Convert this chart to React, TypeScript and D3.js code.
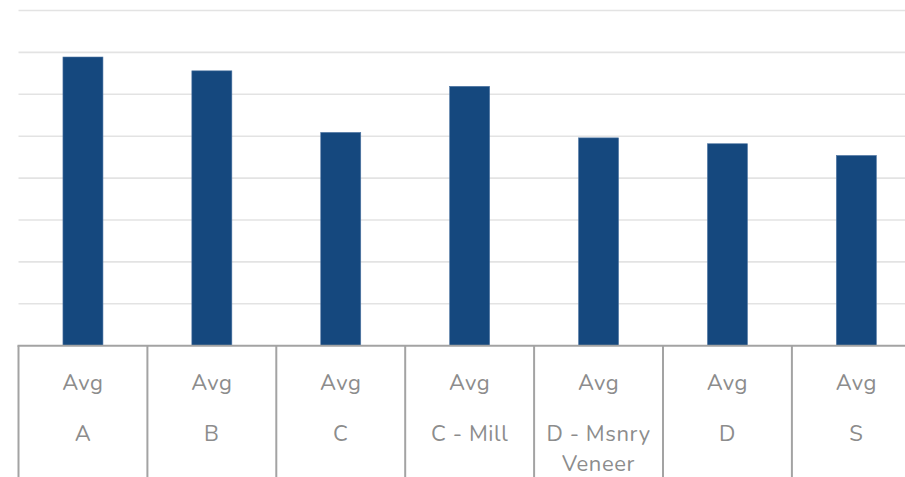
import React from "react";
import * as d3 from "d3";

const categories: string[][] = [["A"], ["B"], ["C"], ["C - Mill"], ["D - Msnry", "Veneer"], ["D"], ["S"]];
const groupLabel = "Avg";
const values = [6.89, 6.56, 5.09, 6.19, 4.96, 4.82, 4.54];
const gridTicks = [1, 2, 3, 4, 5, 6, 7, 8];

const W = 905;
const H = 477;

export default function App() {
  const x0 = 18.5;
  const band = 128.9;
  const x = d3
    .scaleBand<number>()
    .domain(d3.range(categories.length))
    .range([x0, x0 + band * categories.length])
    .paddingInner(0)
    .paddingOuter(0);
  const y = d3.scaleLinear().domain([0, 8]).range([345.7, 10.5]);
  const barW = 40;
  const font = "Nunito, 'Open Sans', Lato, sans-serif";
  const textColor = "#8c8c8c";
  const boundaries = d3.range(categories.length + 1).map((i) => x0 + i * x.bandwidth());

  return (
    <svg
      width={W}
      height={H}
      style={{ position: "absolute", left: 0, top: 0, background: "#fff" }}
    >
      {gridTicks.map((t) => (
        <line key={t} x1={x0} x2={W} y1={y(t)} y2={y(t)} stroke="#e3e3e3" strokeWidth={1.6} />
      ))}
      {values.map((v, i) => (
        <rect
          key={i}
          x={(x(i) as number) + x.bandwidth() / 2 - barW / 2}
          y={y(v)}
          width={barW}
          height={y(0) - y(v)}
          fill="#15487e"
          stroke="#4f76a3"
          strokeWidth={0.6}
        />
      ))}
      <line x1={x0 - 1} x2={W} y1={y(0)} y2={y(0)} stroke="#a3a3a3" strokeWidth={2} />
      {boundaries.map((bx, i) => (
        <line key={i} x1={bx} x2={bx} y1={y(0)} y2={H} stroke="#a3a3a3" strokeWidth={2} />
      ))}
      {categories.map((lines, i) => {
        const cx = (x(i) as number) + x.bandwidth() / 2;
        return (
          <g key={i} fill={textColor} fontFamily={font} fontSize={22} letterSpacing={0.6} textAnchor="middle">
            <text x={cx} y={389.5}>{groupLabel}</text>
            {lines.map((l, j) => (
              <text key={j} x={cx} y={441 + j * 30}>{l}</text>
            ))}
          </g>
        );
      })}
    </svg>
  );
}
